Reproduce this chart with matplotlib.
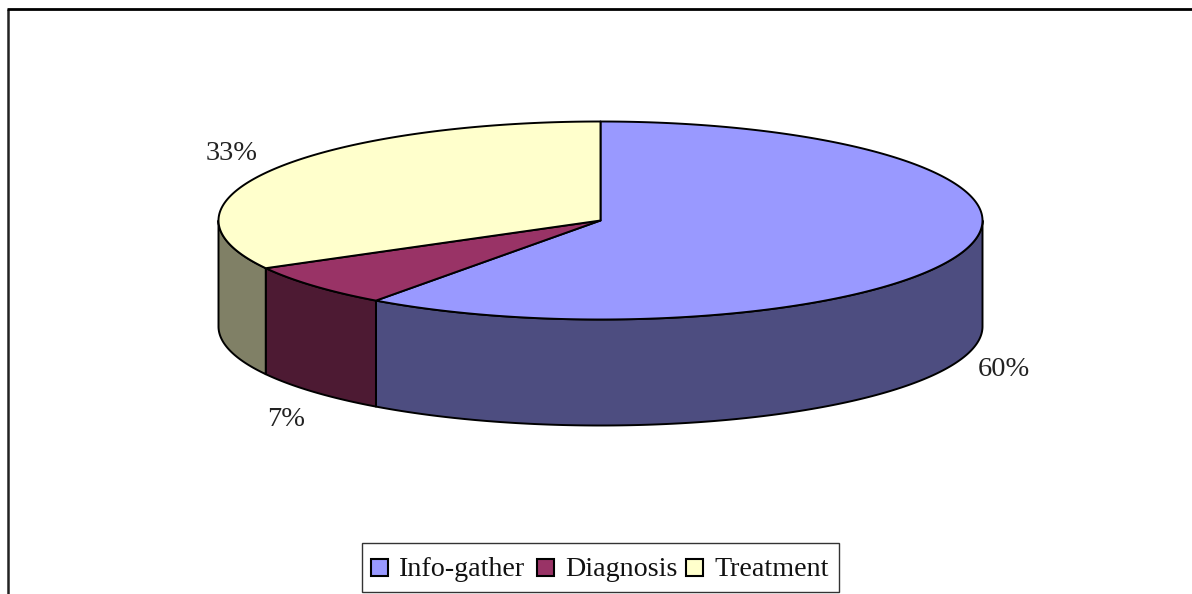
import numpy as np
import matplotlib
matplotlib.use("Agg")
import matplotlib.pyplot as plt
from matplotlib.patches import Polygon, Rectangle

categories = ["Info-gather", "Diagnosis", "Treatment"]
values = [60, 7, 33]
labels = ["60%", "7%", "33%"]
top_colors = ["#9999FF", "#993366", "#FFFFCC"]
side_colors = ["#4D4D80", "#4D1A33", "#808066"]

plt.rcParams["font.family"] = ["Liberation Serif", "DejaVu Serif"]
W, H = 1192, 594
fig = plt.figure(figsize=(W / 100, H / 100), dpi=100, facecolor="white")
ax = fig.add_axes([0, 0, 1, 1])
ax.set_xlim(0, W)
ax.set_ylim(H, 0)
ax.axis("off")

CX, CY, RX, RY, DEPTH = 600.5, 220.5, 382, 99, 106
LW = 1.4


def pt(a, dy=0.0):
    a = np.asarray(a, dtype=float)
    return CX + RX * np.sin(a), CY - RY * np.cos(a) + dy


fracs = np.array(values) / sum(values)
edges = np.concatenate([[0], np.cumsum(fracs)]) * 2 * np.pi

# frame
ax.plot([7.5, 7.5], [H + 2, 9], color="#222222", lw=1.8, solid_capstyle="butt", clip_on=False)
ax.plot([6.5, W + 2], [9, 9], color="black", lw=2.0, solid_capstyle="butt")

# side walls (front half only)
for i in range(3):
    a0, a1 = max(edges[i], np.pi / 2), min(edges[i + 1], 3 * np.pi / 2)
    if a1 <= a0:
        continue
    t = np.linspace(a0, a1, 200)
    xu, yu = pt(t)
    xl, yl = pt(t, DEPTH)
    poly = np.column_stack([np.r_[xu, xl[::-1]], np.r_[yu, yl[::-1]]])
    ax.add_patch(Polygon(poly, closed=True, fc=side_colors[i], ec="black", lw=LW, joinstyle="round"))

# top slices
for i in range(3):
    t = np.linspace(edges[i], edges[i + 1], 300)
    x, y = pt(t)
    poly = np.column_stack([np.r_[CX, x], np.r_[CY, y]])
    ax.add_patch(Polygon(poly, closed=True, fc=top_colors[i], ec="black", lw=LW, joinstyle="round"))

# data labels
label_pos = [(1004, 369), (286.5, 420), (232, 154)]
for s, (x, y) in zip(labels, label_pos):
    ax.text(x, y, s, fontsize=20.5, color="#222222", ha="center", va="center")

# legend
ax.add_patch(Rectangle((362, 543), 477, 49, fc="white", ec="#333333", lw=1.0))
swatches = [371, 537, 686]
texts = [399, 565, 714]
for c, sx, tx, col in zip(categories, swatches, texts, top_colors):
    ax.add_patch(Rectangle((sx, 559), 17, 17, fc=col, ec="black", lw=1.5))
    ax.text(tx, 570, c, fontsize=20.2, color="#111111", ha="left", va="center")

fig.savefig("out.png", dpi=100, facecolor="white")
